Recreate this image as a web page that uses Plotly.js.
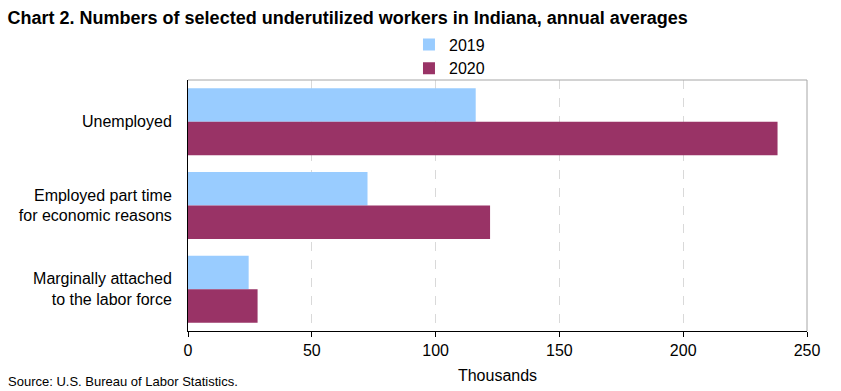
<!DOCTYPE html>
<html>
<head>
<meta charset="utf-8">
<script src="https://cdn.plot.ly/plotly-3.0.1.min.js"></script>
<style>html,body{margin:0;padding:0;background:#fff;}#chart{width:841px;height:391px;}</style>
</head>
<body>
<div id="chart"></div>
<script>
var categories = ["Unemployed", "Employed part time<br>for economic reasons", "Marginally attached<br>to the labor force"];
var values2019 = [116.2, 72.5, 24.5];
var values2020 = [238.1, 122.0, 28.1];
var seriesNames = ["2019", "2020"];
var xTicks = [0, 50, 100, 150, 200, 250];

var font = "Arial, 'Liberation Sans', sans-serif";
var traces = [
  {type: "bar", orientation: "h", name: seriesNames[0], y: categories, x: values2019,
   marker: {color: "#99ccff"}, legendgroup: "a", hoverinfo: "x"},
  {type: "bar", orientation: "h", name: seriesNames[1], y: categories, x: values2020,
   marker: {color: "#993366"}, legendgroup: "b", hoverinfo: "x"}
];
var layout = {
  width: 841, height: 391,
  margin: {l: 188, r: 34, t: 80, b: 60},
  paper_bgcolor: "#fff", plot_bgcolor: "#fff",
  font: {family: font, size: 16, color: "#000"},
  title: {text: "<b>Chart 2. Numbers of selected underutilized workers in Indiana, annual averages</b>",
          x: 0.009, xanchor: "left", y: 0.955, yanchor: "middle", font: {size: 18, family: font}},
  barmode: "group", bargap: 0.2, bargroupgap: 0,
  showlegend: true,
  legend: {x: 0.357, xanchor: "left", xref: "paper", y: 1.0936, yanchor: "middle", yref: "paper",
           orientation: "v", tracegroupgap: 0, font: {size: 16}, bgcolor: "rgba(0,0,0,0)"},
  xaxis: {range: [0, 250], tickvals: xTicks, ticktext: xTicks.map(String),
          showgrid: true, gridcolor: "#d9d9d9", griddash: "dash", gridwidth: 1,
          zeroline: false, showline: true, linecolor: "#000", linewidth: 1,
          ticks: "outside", ticklen: 5, tickcolor: "#000",
          title: {text: "Thousands", font: {size: 16}, standoff: 11},
          tickfont: {size: 16}, mirror: false, fixedrange: true},
  yaxis: {autorange: "reversed", showgrid: false, zeroline: false,
          showline: true, linecolor: "#000", linewidth: 1,
          ticks: "outside", ticklen: 12, tickcolor: "rgba(0,0,0,0)",
          tickfont: {size: 16}, fixedrange: true},
  shapes: [
    {type: "line", xref: "paper", yref: "paper", x0: 0, x1: 1, y0: 1, y1: 1, line: {color: "#a6a6a6", width: 1}},
    {type: "line", xref: "paper", yref: "paper", x0: 1, x1: 1, y0: 0, y1: 1, line: {color: "#a6a6a6", width: 1}}
  ],
  annotations: [
    {text: "Source: U.S. Bureau of Labor Statistics.", xref: "paper", yref: "paper",
     x: -0.294, y: -0.2, xanchor: "left", yanchor: "middle", showarrow: false,
     font: {size: 13, family: font}}
  ]
};
Plotly.newPlot("chart", traces, layout, {displayModeBar: false, staticPlot: true});
</script>
</body>
</html>
